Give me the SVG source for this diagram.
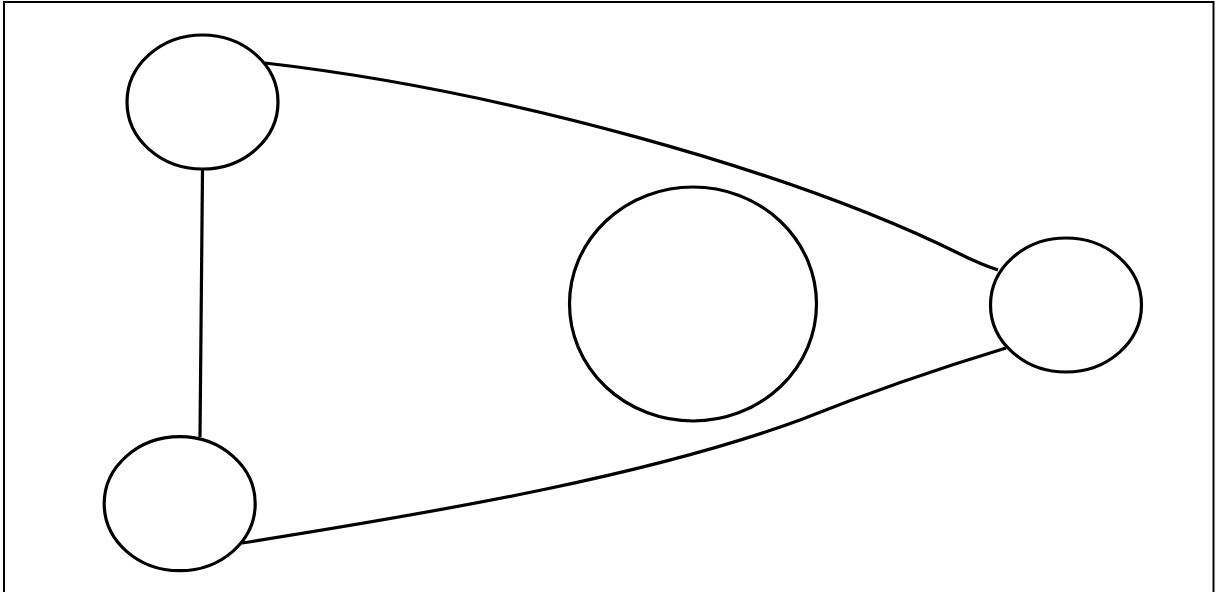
<svg xmlns="http://www.w3.org/2000/svg" width="1218" height="592" viewBox="0 0 1218 592">
<style>
.n{fill:#fff;stroke:#000;stroke-width:3.2}
.e{fill:none;stroke:#000;stroke-width:3.2}
</style>
<rect x="0" y="0" width="1218" height="592" fill="#fff"/>
<rect x="4" y="2" width="1209.5" height="600" fill="none" stroke="#000" stroke-width="2"/>
<g id="connectors">
<path class="e" d="M202.5,170 L200,437"/>
<path class="e" d="M265,63 C500,90 790,170 960,254 Q980,264 998,270"/>
<path class="e" d="M242,543 C450,510 650,475 800,420 C880,388 950,365 1006,348"/>
</g>
<g id="node1"><ellipse class="n" cx="202.5" cy="102" rx="75.5" ry="67"/></g>
<g id="node2"><ellipse class="n" cx="179.7" cy="503.7" rx="75.5" ry="67"/></g>
<g id="node3"><ellipse class="n" cx="693" cy="304" rx="123.5" ry="117"/></g>
<g id="node4"><ellipse class="n" cx="1066" cy="305" rx="75.5" ry="67"/></g>
</svg>
